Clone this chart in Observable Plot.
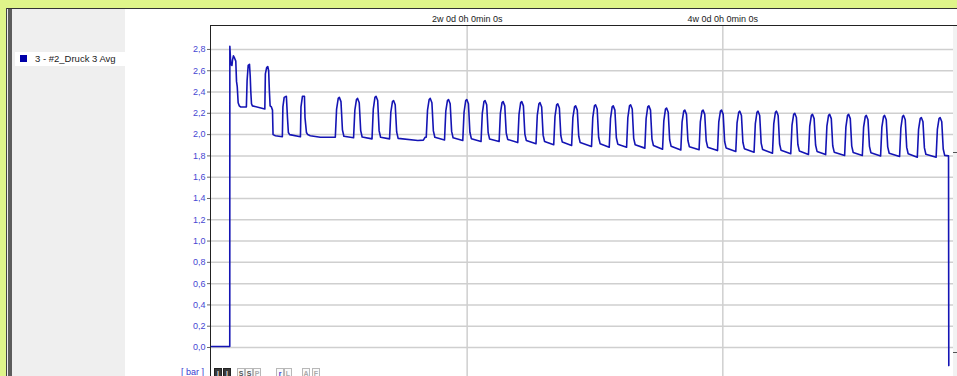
<!DOCTYPE html>
<html>
<head>
<meta charset="utf-8">
<script src="https://cdn.jsdelivr.net/npm/d3@7"></script>
<script src="https://cdn.jsdelivr.net/npm/@observablehq/plot@0.6"></script>
<style>
  html, body { margin: 0; padding: 0; }
  body { width: 957px; height: 376px; overflow: hidden; position: relative; background: #dff58a;
         font-family: "Liberation Sans", Arial, sans-serif; }
  .abs { position: absolute; }
  .ico { position: absolute; top: 368px; width: 8px; height: 10px; border: 1px solid #b8b8b8; background: #fafafa;
         font: bold 7px "Liberation Sans", Arial, sans-serif; color: #aaa; text-align: center; line-height: 9px; box-sizing: border-box; }
  .ico.dark { background: #3a3a3a; border-color: #222; color: #ddd; }
</style>
</head>
<body>
<div class="abs" style="left:6px;top:8px;width:951px;height:1px;background:#333"></div>
<div class="abs" style="left:6px;top:8px;width:1px;height:368px;background:#444"></div>
<div class="abs" style="left:7px;top:9px;width:950px;height:367px;background:#fff"></div>
<div class="abs" style="left:7px;top:9px;width:118px;height:367px;background:#efefef"></div>
<div class="abs" style="left:8px;top:9px;width:4px;height:367px;background:#5c5c5c"></div>
<div class="abs" style="left:15px;top:52px;width:110px;height:14px;background:#fff"></div>
<div class="abs" style="left:20px;top:55px;width:7px;height:7px;background:#0000a8"></div>
<div class="abs" id="legendText" style="left:35px;top:52px;height:14px;line-height:14px;font-size:9.5px;color:#222;white-space:nowrap"></div>
<div class="abs" id="chart" style="left:125px;top:9px;width:832px;height:367px"></div>
<div class="abs" style="left:953px;top:26px;width:4px;height:350px;background:#f2f2f2"></div>
<div class="abs" style="left:953px;top:152px;width:4px;height:1px;background:#555"></div>
<div class="abs" style="left:953px;top:352px;width:4px;height:1px;background:#555"></div>
<div class="abs" id="unitText" style="left:181px;top:366px;font-size:9px;line-height:12px;color:#3a3ad0;white-space:nowrap"></div>
<div class="ico dark" style="left:214px">I</div>
<div class="ico dark" style="left:223px">I</div>
<div class="ico" style="left:237px;color:#555">S</div>
<div class="ico" style="left:245px;color:#555">S</div>
<div class="ico" style="left:253px">P</div>
<div class="ico" style="left:276px;color:#3a3ad0">r</div>
<div class="ico" style="left:284px">L</div>
<div class="ico" style="left:302px">A</div>
<div class="ico" style="left:312px">F</div>
<script>
const seriesName = "3 - #2_Druck 3 Avg";
const unitLabel = "[ bar ]";
const yTicks = [0, 0.2, 0.4, 0.6, 0.8, 1.0, 1.2, 1.4, 1.6, 1.8, 2.0, 2.2, 2.4, 2.6, 2.8];
const xTickDays = [14, 28];
const xTickLabels = ["2w 0d 0h 0min 0s", "4w 0d 0h 0min 0s"];

// elapsed time in days
const timeDays = [
  0.00, 1.00, 1.005, 1.055, 1.12, 1.15, 1.20, 1.26, 1.33, 1.37, 1.41, 1.46, 1.52, 1.59,
  1.91, 1.95, 2.01, 2.08, 2.12, 2.15, 2.19, 2.24,
  2.92, 2.95, 3.02, 3.08, 3.13, 3.17, 3.21, 3.28, 3.34, 3.37, 3.50,
  3.88, 3.91, 3.98, 4.10, 4.16, 4.21, 4.28,
  4.87, 4.90, 4.98, 5.09, 5.12, 5.20, 5.27, 5.41, 5.96, 6.51,
  6.78, 6.85, 6.94, 7.00, 7.09, 7.17, 7.25,
  7.78, 7.85, 7.94, 8.00, 8.09, 8.17, 8.25,
  8.79, 8.86, 8.95, 9.01, 9.10, 9.18, 9.26,
  9.75, 9.82, 9.91, 9.97, 10.06, 10.14, 10.22, 11.30, 11.60, 11.70,
  11.76, 11.83, 11.92, 11.98, 12.07, 12.15, 12.23,
  12.76, 12.83, 12.92, 12.98, 13.07, 13.15, 13.23,
  13.76, 13.83, 13.92, 13.98, 14.07, 14.15, 14.23,
  14.76, 14.83, 14.92, 14.98, 15.07, 15.15, 15.23,
  15.75, 15.82, 15.91, 15.97, 16.06, 16.14, 16.22,
  16.77, 16.84, 16.93, 16.99, 17.08, 17.16, 17.24,
  17.77, 17.84, 17.93, 17.99, 18.08, 18.16, 18.24,
  18.74, 18.81, 18.90, 18.96, 19.05, 19.13, 19.21,
  19.72, 19.79, 19.88, 19.94, 20.03, 20.11, 20.19,
  20.81, 20.88, 20.97, 21.03, 21.12, 21.20, 21.28,
  21.78, 21.85, 21.94, 22.00, 22.09, 22.17, 22.25,
  22.73, 22.80, 22.89, 22.95, 23.04, 23.12, 23.20,
  23.73, 23.80, 23.89, 23.95, 24.04, 24.12, 24.20,
  24.70, 24.77, 24.86, 24.92, 25.01, 25.09, 25.17,
  25.70, 25.77, 25.86, 25.92, 26.01, 26.09, 26.17,
  26.70, 26.77, 26.86, 26.92, 27.01, 27.09, 27.17,
  27.71, 27.78, 27.87, 27.93, 28.02, 28.10, 28.18,
  28.71, 28.78, 28.87, 28.93, 29.02, 29.10, 29.18,
  29.71, 29.78, 29.87, 29.93, 30.02, 30.10, 30.18,
  30.72, 30.79, 30.88, 30.94, 31.03, 31.11, 31.19,
  31.72, 31.79, 31.88, 31.94, 32.03, 32.11, 32.19,
  32.69, 32.76, 32.85, 32.91, 33.00, 33.08, 33.16,
  33.63, 33.70, 33.79, 33.85, 33.94, 34.02, 34.10,
  34.67, 34.74, 34.83, 34.89, 34.98, 35.06, 35.14,
  35.64, 35.71, 35.80, 35.86, 35.95, 36.03, 36.11,
  36.64, 36.71, 36.80, 36.86, 36.95, 37.03, 37.11,
  37.68, 37.75, 37.84, 37.90, 37.99, 38.07, 38.15,
  38.65, 38.72, 38.81, 38.87, 38.96, 39.04, 39.12,
  39.68, 39.75, 39.84, 39.90, 39.99, 40.07, 40.15,
  40.36, 40.375
];

// pressure in bar
const pressureBar = [
  0.01, 0.01, 2.83, 2.66, 2.65, 2.70, 2.74, 2.72, 2.69, 2.50, 2.45, 2.30, 2.27, 2.26,
  2.26, 2.51, 2.65, 2.66, 2.55, 2.41, 2.29, 2.27,
  2.24, 2.57, 2.63, 2.64, 2.60, 2.41, 2.27, 2.26, 2.23, 2.00, 1.99,
  1.98, 2.26, 2.35, 2.36, 2.16, 2.02, 2.00,
  1.98, 2.26, 2.36, 2.36, 2.16, 2.02, 2.00, 1.99, 1.975, 1.975,
  1.975, 2.24, 2.34, 2.35, 2.31, 2.045, 1.985,
  1.97, 2.23, 2.33, 2.34, 2.30, 2.038, 1.978,
  1.96, 2.24, 2.35, 2.36, 2.32, 2.035, 1.975,
  1.96, 2.21, 2.31, 2.32, 2.28, 2.025, 1.965, 1.945, 1.948, 1.975,
  1.975, 2.23, 2.33, 2.34, 2.30, 2.035, 1.975,
  1.95, 2.22, 2.32, 2.33, 2.29, 2.03, 1.97,
  1.945, 2.21, 2.32, 2.33, 2.29, 2.022, 1.962,
  1.935, 2.20, 2.31, 2.32, 2.28, 2.018, 1.958,
  1.935, 2.20, 2.30, 2.31, 2.27, 2.015, 1.955,
  1.925, 2.19, 2.30, 2.31, 2.27, 2.005, 1.945,
  1.914, 2.18, 2.29, 2.30, 2.26, 1.995, 1.935,
  1.905, 2.17, 2.28, 2.29, 2.25, 1.99, 1.93,
  1.898, 2.16, 2.26, 2.27, 2.23, 1.985, 1.925,
  1.889, 2.16, 2.27, 2.28, 2.24, 1.975, 1.915,
  1.882, 2.15, 2.26, 2.27, 2.23, 1.97, 1.91,
  1.882, 2.16, 2.27, 2.28, 2.24, 1.965, 1.905,
  1.873, 2.15, 2.26, 2.27, 2.23, 1.958, 1.898,
  1.862, 2.13, 2.24, 2.25, 2.21, 1.95, 1.89,
  1.855, 2.12, 2.22, 2.23, 2.19, 1.945, 1.885,
  1.858, 2.12, 2.22, 2.23, 2.19, 1.942, 1.882,
  1.85, 2.12, 2.22, 2.23, 2.19, 1.935, 1.875,
  1.842, 2.11, 2.21, 2.22, 2.18, 1.928, 1.868,
  1.835, 2.10, 2.21, 2.22, 2.18, 1.92, 1.86,
  1.826, 2.10, 2.21, 2.22, 2.18, 1.912, 1.852,
  1.82, 2.09, 2.19, 2.20, 2.16, 1.907, 1.847,
  1.813, 2.08, 2.18, 2.19, 2.15, 1.902, 1.842,
  1.812, 2.08, 2.18, 2.19, 2.15, 1.895, 1.835,
  1.804, 2.07, 2.18, 2.19, 2.15, 1.892, 1.832,
  1.804, 2.07, 2.17, 2.18, 2.14, 1.89, 1.83,
  1.80, 2.07, 2.17, 2.18, 2.14, 1.885, 1.825,
  1.795, 2.06, 2.17, 2.18, 2.14, 1.88, 1.82,
  1.788, 2.05, 2.15, 2.16, 2.12, 1.875, 1.815,
  1.788, 2.05, 2.15, 2.16, 2.12, 1.865, 1.805,
  1.80, -0.17
];

document.getElementById("legendText").textContent = seriesName;
document.getElementById("unitText").textContent = unitLabel;

const data = timeDays.map((d, i) => ({day: d, bar: pressureBar[i]}));
const pxPerDay = 256 / 14;
const xDomain = [-1 / pxPerDay, 747 / pxPerDay];
const yDomain = [-0.2725, 3.025];
const gridColor = "#cfcfcf";

const chart = Plot.plot({
  width: 832,
  height: 367,
  marginLeft: 85,
  marginRight: 0,
  marginTop: 16,
  marginBottom: 0,
  style: {background: "transparent", overflow: "visible", fontFamily: "'Liberation Sans', Arial, sans-serif"},
  x: {domain: xDomain, axis: null, label: null},
  y: {domain: yDomain, axis: null, label: null},
  marks: [
    Plot.gridY(yTicks, {stroke: gridColor, strokeOpacity: 1, strokeWidth: 1.5}),
    Plot.gridX(xTickDays, {stroke: gridColor, strokeOpacity: 1, strokeWidth: 1.5}),
    Plot.axisY(yTicks, {anchor: "left", label: null, tickSize: 3, tickPadding: 2, fontSize: 9, fill: "#4646d2", stroke: "#666",
      tickFormat: d => d.toFixed(1).replace(".", ",")}),
    Plot.axisX(xTickDays, {anchor: "top", label: null, tickSize: 0, tickPadding: 4, fontSize: 9, fill: "#1a1a1a",
      tickFormat: d => xTickLabels[xTickDays.indexOf(d)]}),
    Plot.ruleX([xDomain[0]], {stroke: "#222"}),
    Plot.ruleY([yDomain[1]], {stroke: "#222"}),
    Plot.line(data, {x: "day", y: "bar", stroke: "#1414b4", strokeWidth: 1.6})
  ]
});
document.getElementById("chart").appendChild(chart);
</script>
</body>
</html>
